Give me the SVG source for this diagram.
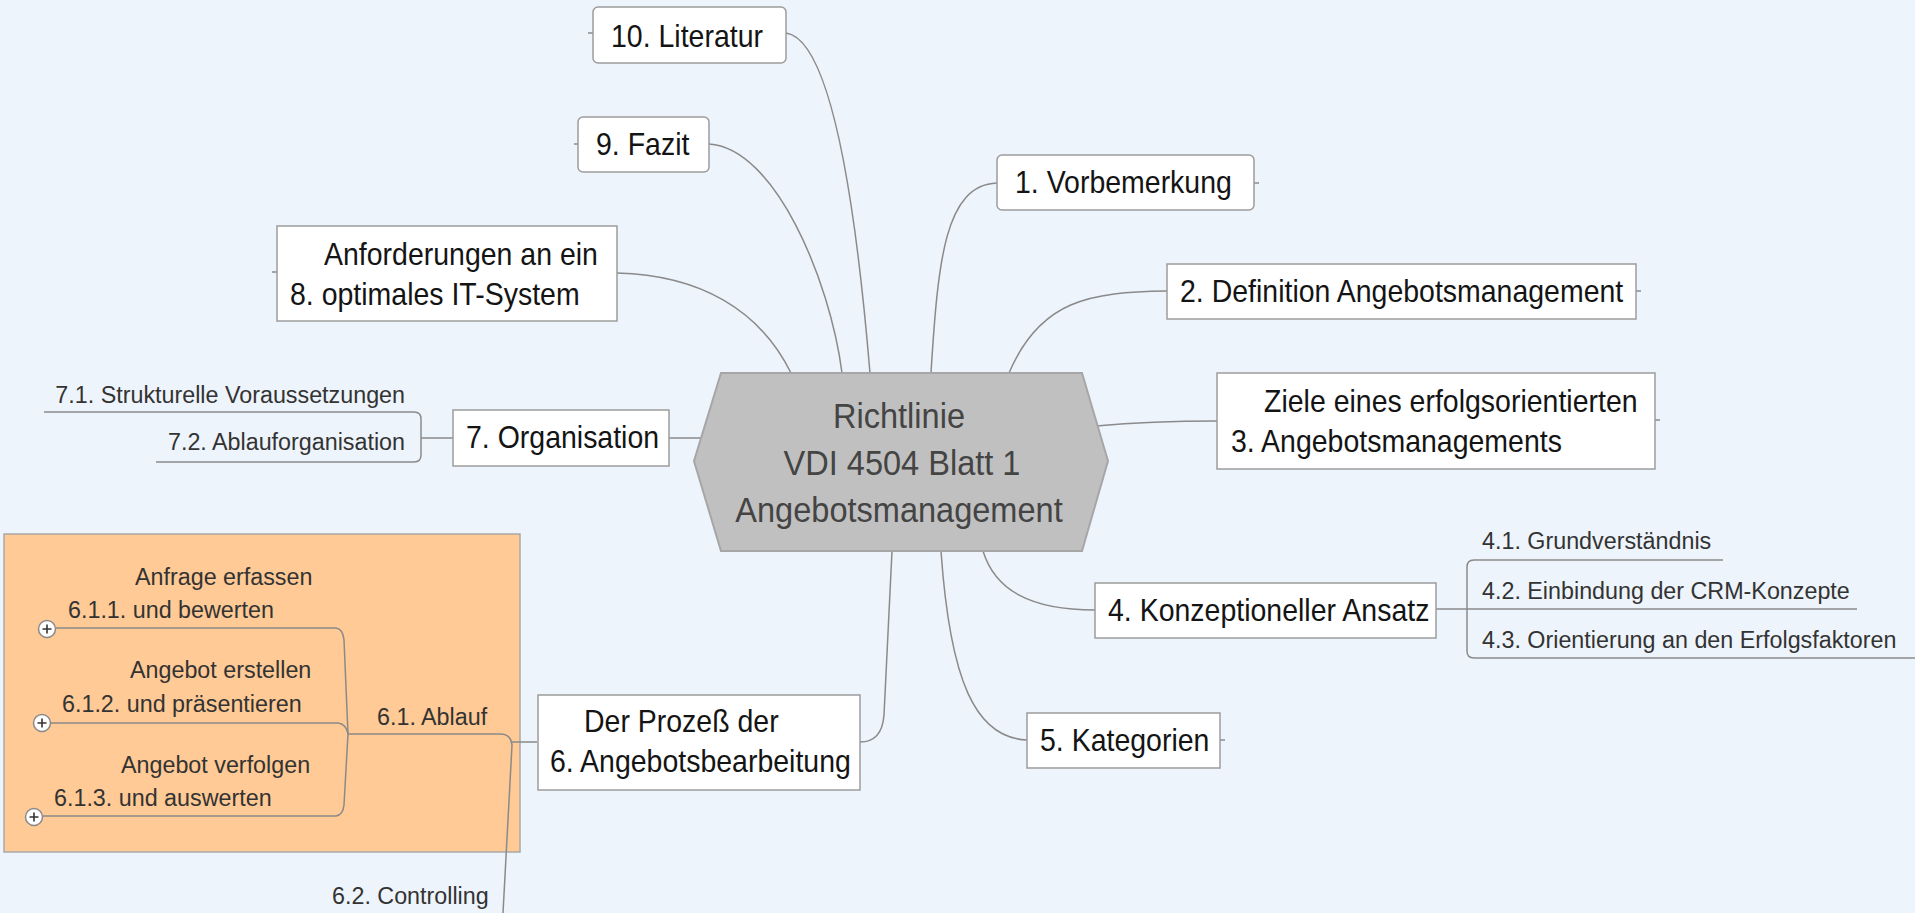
<svg xmlns="http://www.w3.org/2000/svg" width="1915" height="913" viewBox="0 0 1915 913">
<style>
.bg{fill:#eef4fb}
.box{fill:#ffffff;stroke:#9c9c9c;stroke-width:1.5}
.ln{fill:none;stroke:#8a8a8a;stroke-width:1.5}
.t{font-family:"Liberation Sans",Arial,sans-serif;font-size:30.5px;fill:#141414}
.s{font-family:"Liberation Sans",Arial,sans-serif;font-size:23.3px;fill:#333333}
.c{font-family:"Liberation Sans",Arial,sans-serif;font-size:35px;fill:#444444;text-anchor:middle}
.plus{fill:#ffffff;stroke:#8a8a8a;stroke-width:1.5}
.pl{stroke:#333333;stroke-width:1.6}
</style>
<rect class="bg" x="0" y="0" width="1915" height="913"/>

<g id="orange-area">
  <rect x="4" y="534" width="516" height="318" fill="#ffca95" stroke="#a8a8a8" stroke-width="1.5"/>
</g>

<g id="connectors">
  <path class="ln" d="M870,373 C858,230 835,40 786,33"/>
  <path class="ln" d="M842,373 C830,280 775,148 709,144"/>
  <path class="ln" d="M791,373 C760,310 700,275 617,273"/>
  <path class="ln" d="M931,373 C938,260 945,185 997,183"/>
  <path class="ln" d="M1009,373 C1040,300 1090,292 1167,291"/>
  <path class="ln" d="M1096,426 C1140,422 1170,421 1217,421"/>
  <path class="ln" d="M983,551 C995,590 1030,610 1095,610"/>
  <path class="ln" d="M941,551 C950,680 975,738 1027,740"/>
  <path class="ln" d="M892,551 L884,715 Q882,742 860,742"/>
  <path class="ln" d="M669,438 L701,438"/>
  <path class="ln" d="M593,33 L588,33 M578,144 L574,144 M277,272 L272,272 M1254,183 L1259,183 M1636,291 L1641,291 M1655,420 L1660,420 M1220,740 L1225,740"/>
  <path class="ln" d="M453,438 L421,438"/>
  <path class="ln" d="M44,412 L414,412 Q421,412 421,419 L421,455 Q421,462 414,462 L156,462"/>
  <path class="ln" d="M1436,609 L1467,609"/>
  <path class="ln" d="M1723,560 L1474,560 Q1467,560 1467,567 L1467,651 Q1467,658 1474,658 L1915,658"/>
  <path class="ln" d="M1467,609 L1857,609"/>
  <path class="ln" d="M537,742 L512,742"/>
  <path class="ln" d="M348,734 L500,734 Q511,734 512,745 L503,913"/>
  <path class="ln" d="M56,628 L336,628 Q343,629 344,640 L348,734"/>
  <path class="ln" d="M51,723 L338,723 Q346,724 348,734"/>
  <path class="ln" d="M43,816 L336,816 Q343,815 344,805 L348,734"/>
</g>

<g id="central">
  <polygon points="721,373 1082,373 1108,461 1082,551 721,551 694,461" fill="#c0c0c0" stroke="#a6a6a6" stroke-width="2"/>
  <text class="c" transform="translate(899,428) scale(0.93,1)">Richtlinie</text>
  <text class="c" transform="translate(902,475) scale(0.93,1)">VDI 4504 Blatt 1</text>
  <text class="c" transform="translate(899,522) scale(0.93,1)">Angebotsmanagement</text>
</g>

<g id="n10">
  <rect class="box" x="593" y="7" width="193" height="56" rx="5"/>
  <text class="t" transform="translate(611,47) scale(0.934,1)">10. Literatur</text>
</g>
<g id="n9">
  <rect class="box" x="578" y="117" width="131" height="55" rx="5"/>
  <text class="t" transform="translate(596,155) scale(0.934,1)">9. Fazit</text>
</g>
<g id="n1">
  <rect class="box" x="997" y="155" width="257" height="55" rx="5"/>
  <text class="t" transform="translate(1015,193) scale(0.934,1)">1. Vorbemerkung</text>
</g>
<g id="n2">
  <rect class="box" x="1167" y="264" width="469" height="55"/>
  <text class="t" transform="translate(1180,302) scale(0.934,1)">2. Definition Angebotsmanagement</text>
</g>
<g id="n3">
  <rect class="box" x="1217" y="373" width="438" height="96"/>
  <text class="t" transform="translate(1264,412) scale(0.934,1)">Ziele eines erfolgsorientierten</text>
  <text class="t" transform="translate(1231,452) scale(0.934,1)">3. Angebotsmanagements</text>
</g>
<g id="n4">
  <rect class="box" x="1095" y="583" width="341" height="55"/>
  <text class="t" transform="translate(1108,621) scale(0.934,1)">4. Konzeptioneller Ansatz</text>
</g>
<g id="n4-1"><text class="s" x="1482" y="549">4.1. Grundverständnis</text></g>
<g id="n4-2"><text class="s" x="1482" y="599">4.2. Einbindung der CRM-Konzepte</text></g>
<g id="n4-3"><text class="s" x="1482" y="648">4.3. Orientierung an den Erfolgsfaktoren</text></g>
<g id="n5">
  <rect class="box" x="1027" y="713" width="193" height="55"/>
  <text class="t" transform="translate(1040,751) scale(0.934,1)">5. Kategorien</text>
</g>
<g id="n6">
  <rect class="box" x="538" y="695" width="322" height="95"/>
  <text class="t" transform="translate(584,732) scale(0.934,1)">Der Prozeß der</text>
  <text class="t" transform="translate(550,772) scale(0.934,1)">6. Angebotsbearbeitung</text>
</g>
<g id="n6-1"><text class="s" x="377" y="725">6.1. Ablauf</text></g>
<g id="n6-1-1">
  <text class="s" x="135" y="585">Anfrage erfassen</text>
  <text class="s" x="68" y="618">6.1.1. und bewerten</text>
  <circle class="plus" cx="47" cy="629" r="8.5"/>
  <path class="pl" d="M42.5,629 H51.5 M47,624.5 V633.5"/>
</g>
<g id="n6-1-2">
  <text class="s" x="130" y="678">Angebot erstellen</text>
  <text class="s" x="62" y="712">6.1.2. und präsentieren</text>
  <circle class="plus" cx="42" cy="723" r="8.5"/>
  <path class="pl" d="M37.5,723 H46.5 M42,718.5 V727.5"/>
</g>
<g id="n6-1-3">
  <text class="s" x="121" y="773">Angebot verfolgen</text>
  <text class="s" x="54" y="806">6.1.3. und auswerten</text>
  <circle class="plus" cx="34" cy="817" r="8.5"/>
  <path class="pl" d="M29.5,817 H38.5 M34,812.5 V821.5"/>
</g>
<g id="n6-2"><text class="s" x="332" y="904">6.2. Controlling</text></g>
<g id="n7">
  <rect class="box" x="453" y="410" width="216" height="56"/>
  <text class="t" transform="translate(466,448) scale(0.934,1)">7. Organisation</text>
</g>
<g id="n7-1"><text class="s" x="405" y="403" text-anchor="end">7.1. Strukturelle Voraussetzungen</text></g>
<g id="n7-2"><text class="s" x="405" y="450" text-anchor="end">7.2. Ablauforganisation</text></g>
<g id="n8">
  <rect class="box" x="277" y="226" width="340" height="95"/>
  <text class="t" transform="translate(324,265) scale(0.934,1)">Anforderungen an ein</text>
  <text class="t" transform="translate(290,305) scale(0.934,1)">8. optimales IT-System</text>
</g>
</svg>
